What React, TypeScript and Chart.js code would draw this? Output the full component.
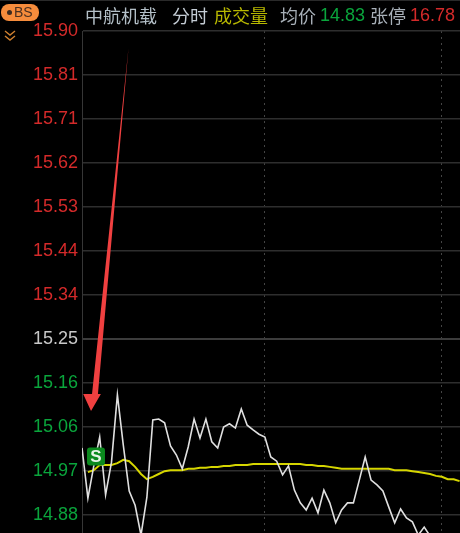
import React, { useEffect, useRef } from "react";
import { Chart, registerables } from "chart.js";

Chart.register(...registerables);

const tickPrices = [15.9003, 15.8074, 15.7145, 15.6216, 15.5287, 15.4358, 15.3429, 15.25, 15.1571, 15.0642, 14.9713, 14.8784];
const gridMinutes = [30.85, 60.85];

const priceLine = [
  15.02, 14.914, 14.982, 15.043, 14.921, 14.99, 15.132, 15.026, 14.929, 14.899,
  14.836, 14.916, 15.079, 15.081, 15.073, 15.024, 15.005, 14.976, 15.022, 15.081,
  15.041, 15.081, 15.033, 15.02, 15.064, 15.071, 15.062, 15.102, 15.068, 15.058,
  15.049, 15.043, 15.001, 14.992, 14.963, 14.982, 14.931, 14.904, 14.889, 14.914,
  14.883, 14.931, 14.904, 14.862, 14.889, 14.904, 14.904, 14.952, 15.001, 14.952,
  14.942, 14.929, 14.895, 14.862, 14.891, 14.872, 14.864, 14.836, 14.853, 14.834,
  14.83, 14.82, 14.81, 14.8, 14.8,
];
const averageLine = [
  null, 14.969, 14.973, 14.984, 14.984, 14.984, 14.988, 14.995, 14.992, 14.98,
  14.965, 14.954, 14.959, 14.965, 14.971, 14.973, 14.973, 14.973, 14.976, 14.976,
  14.978, 14.978, 14.98, 14.98, 14.982, 14.982, 14.984, 14.984, 14.984, 14.986,
  14.986, 14.986, 14.986, 14.986, 14.986, 14.986, 14.986, 14.986, 14.984, 14.984,
  14.982, 14.982, 14.98, 14.978, 14.976, 14.976, 14.976, 14.976, 14.976, 14.976,
  14.976, 14.976, 14.976, 14.973, 14.973, 14.973, 14.971, 14.969, 14.967, 14.965,
  14.961, 14.959, 14.954, 14.954, 14.95,
];
const minutes = priceLine.map((_, i) => i);

const arrowMinutes = [7.88, 2.7, 3.2, 1.53, 0.2, 1.7, 7.88];
const arrowPrices = [15.864, 15.134, 15.134, 15.098, 15.134, 15.134, 15.864];

const signalMinute = 2.37;
const signalPrice = 15.002;
const signalLabel = "S";

const RED = "#d42a2a";
const GREEN = "#0aa53c";

const header = [
  { text: "中航机载", left: 85, color: "#b4c0c8", cjk: true },
  { text: "分时", left: 172, color: "#c4ccd4", cjk: true },
  { text: "成交量", left: 214, color: "#b8b800", cjk: true },
  { text: "均价", left: 280, color: "#a8b0b8", cjk: true },
  { text: "14.83", left: 320, color: GREEN, cjk: false },
  { text: "张停", left: 370, color: "#a8b0b8", cjk: true },
  { text: "16.78", left: 410, color: RED, cjk: false },
];

const signalPlugin = {
  id: "signal",
  afterDatasetsDraw(chart: any) {
    const { ctx, scales } = chart;
    const cx = scales.x.getPixelForValue(signalMinute);
    const cy = scales.y.getPixelForValue(signalPrice);
    ctx.save();
    ctx.fillStyle = "#0b8a1e";
    ctx.beginPath();
    ctx.roundRect(cx - 9, cy - 9, 18, 18, 3);
    ctx.fill();
    ctx.fillStyle = "#e8f4e8";
    ctx.font = "bold 17px 'Liberation Sans'";
    ctx.textAlign = "center";
    ctx.textBaseline = "middle";
    ctx.fillText(signalLabel, cx, cy + 1);
    ctx.restore();
  },
};

export default function App() {
  const ref = useRef<HTMLCanvasElement | null>(null);

  useEffect(() => {
    document.body.style.margin = "0";
    document.body.style.background = "#000";
    const chart = new Chart(ref.current as HTMLCanvasElement, {
      type: "line",
      data: {
        datasets: [
          {
            data: minutes.map((m, i) => ({ x: m, y: priceLine[i] })),
            borderColor: "#e0e0e0",
            borderWidth: 1.6,
            pointRadius: 0,
            tension: 0,
          },
          {
            data: minutes.map((m, i) => ({ x: m, y: averageLine[i] })),
            borderColor: "#d6d600",
            borderWidth: 2,
            pointRadius: 0,
            tension: 0,
            spanGaps: false,
          },
          {
            data: arrowMinutes.map((m, i) => ({ x: m, y: arrowPrices[i] })),
            borderColor: "rgba(0,0,0,0)",
            borderWidth: 0,
            backgroundColor: "#f04040",
            fill: "shape",
            pointRadius: 0,
            tension: 0,
          },
        ] as any,
      },
      plugins: [signalPlugin],
      options: {
        responsive: false,
        animation: false,
        layout: { autoPadding: false, padding: { top: 31, right: 0, bottom: 0, left: 0 } },
        plugins: { legend: { display: false }, tooltip: { enabled: false } },
        scales: {
          x: {
            type: "linear",
            min: 0,
            max: 64.07,
            afterBuildTicks: (axis: any) => {
              axis.ticks = gridMinutes.map((value) => ({ value }));
            },
            afterFit: (axis: any) => {
              axis.height = 0;
            },
            ticks: { display: false },
            border: { display: false, dash: [2, 4] },
            grid: { color: "#444444", lineWidth: 1, drawTicks: false },
          },
          y: {
            type: "linear",
            min: 14.8404,
            max: 15.9003,
            afterBuildTicks: (axis: any) => {
              axis.ticks = tickPrices.map((value) => ({ value }));
            },
            afterFit: (axis: any) => {
              axis.width = 82;
              axis.paddingTop = 0;
              axis.paddingBottom = 0;
            },
            ticks: {
              padding: 4,
              autoSkip: false,
              font: { family: "'Liberation Sans'", size: 18 },
              color: (c: any) => (c.tick.value > 15.26 ? RED : c.tick.value < 15.24 ? GREEN : "#c8c8c8"),
              callback: (v: any) => Number(v).toFixed(2),
            },
            border: { color: "#363636", width: 1 },
            grid: {
              drawTicks: false,
              color: (c: any) => (Math.abs(c.tick?.value - 15.25) < 0.01 ? "#3c3c3c" : "#2e2e2e"),
              lineWidth: (c: any) => (Math.abs(c.tick?.value - 15.25) < 0.01 ? 2 : 1.5),
            },
          },
        },
      },
    } as any);
    return () => chart.destroy();
  }, []);

  return (
    <div style={{ position: "fixed", left: 0, top: 0, width: 460, height: 533, background: "#000", overflow: "hidden" }}>
      <canvas ref={ref} width={460} height={533} style={{ position: "absolute", left: 0, top: 0, display: "block" }} />
      <div style={{ position: "absolute", left: 0, top: 0, width: 460, height: 1, background: "#2a2a2a" }} />
      <div
        style={{
          position: "absolute", left: 1, top: 4, width: 38, height: 17, borderRadius: 8, background: "#f68c3c",
          color: "#4a3020", font: "14px/17px 'Liberation Sans'", whiteSpace: "nowrap",
        }}
      >
        <span style={{ position: "absolute", left: 6, top: 6, width: 5, height: 5, borderRadius: 3, background: "#3a2a20" }} />
        <span style={{ position: "absolute", left: 13, top: 0 }}>BS</span>
      </div>
      <svg width="14" height="14" style={{ position: "absolute", left: 3, top: 29 }}>
        <polyline points="2,2 7,6 12,2" fill="none" stroke="#d08030" strokeWidth="1.4" />
        <polyline points="2,7 7,11 12,7" fill="none" stroke="#d08030" strokeWidth="1.4" />
      </svg>
      {header.map((h) => (
        <span
          key={h.text}
          style={{
            position: "absolute", left: h.left, top: 3, color: h.color, whiteSpace: "nowrap",
            font: h.cjk ? "18px/24px 'Noto Sans CJK SC'" : "18px/24px 'Liberation Sans'",
          }}
        >
          {h.text}
        </span>
      ))}
    </div>
  );
}
